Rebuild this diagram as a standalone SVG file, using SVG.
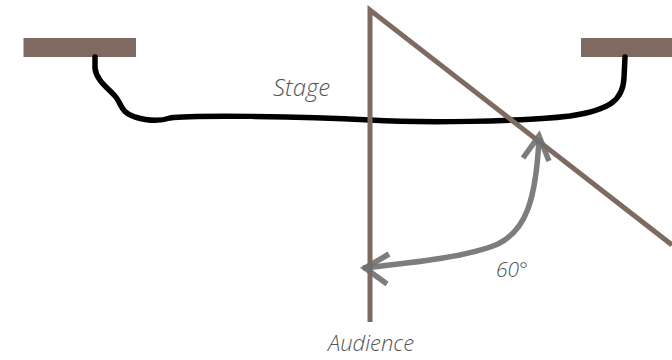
<svg xmlns="http://www.w3.org/2000/svg" width="672" height="360" viewBox="0 0 672 360">
<style>
.wall{fill:#7f6a62}
.brown{fill:none;stroke:#7f6a62;stroke-width:5;stroke-linejoin:miter}
.curtain{fill:none;stroke:#000;stroke-width:5.5;stroke-linecap:round;stroke-linejoin:round}
.arc{fill:none;stroke:#6f6f6f;stroke-opacity:0.9;stroke-width:5.5;stroke-linecap:butt;stroke-linejoin:miter}
.lbl{font-family:"Open Sans","Lato",sans-serif;font-style:italic;font-weight:300;fill:#555}
</style>
<g id="wall-left"><rect class="wall" x="23.5" y="38" width="112.5" height="19"/></g>
<g id="wall-right"><rect class="wall" x="581" y="38" width="91" height="19"/></g>
<g id="connectors">
<path class="curtain" d="M95,57 L95,68 C96,80 108,88 115,96 C122,104 120,112 135,117 C148,121 158,122 170,118 C190,115 300,116 370,120 C420,123 520,122 570,116 C610,110 623,100 624,78 L625,57"/>
<path class="brown" d="M370,322 L370,10 L672,245"/>
<path class="arc" d="M363,268 C420,262 470,256 498,244 C526,230 536,200 539,138"/>
<path class="arc" d="M389,254 L365,268 L387,284"/>
<path class="arc" d="M523,158 L539,136 L549,161"/>
</g>
<g id="stage-label"><text class="lbl" x="273" y="96" font-size="24">Stage</text></g>
<g id="angle-label"><text class="lbl" x="496" y="277" font-size="21">60°</text></g>
<g id="audience-label"><text class="lbl" x="328" y="351" font-size="22">Audience</text></g>
</svg>
